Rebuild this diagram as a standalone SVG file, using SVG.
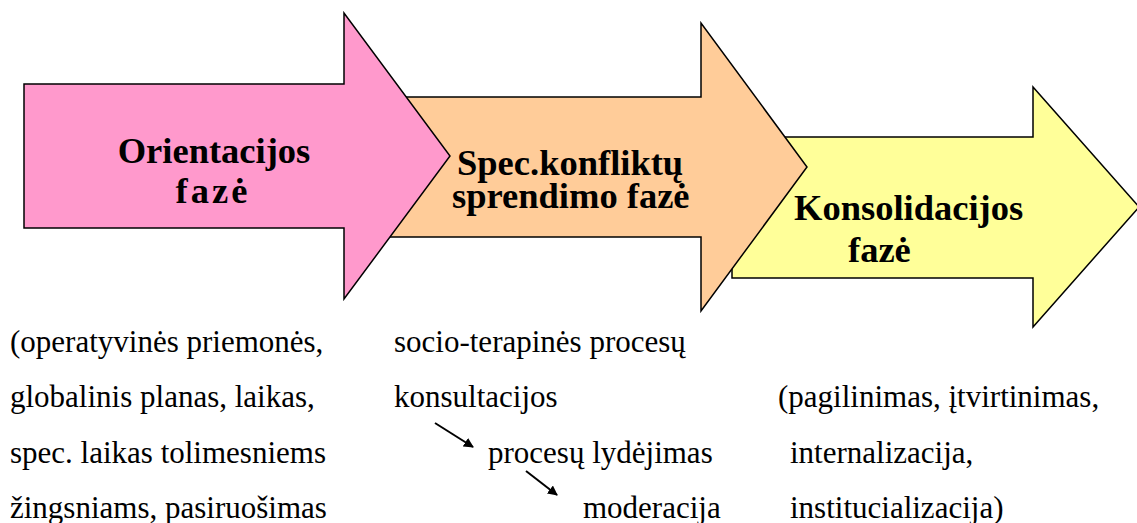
<svg xmlns="http://www.w3.org/2000/svg" width="1137" height="523" viewBox="0 0 1137 523">
<defs>
<style>
.shape{stroke:#000;stroke-width:1.5;stroke-linejoin:miter}
.title{font-weight:bold;font-size:36.5px;fill:#000}
.body{font-size:31px;fill:#000}
.conn{stroke:#000;stroke-width:2;fill:none}
</style>
<marker id="ah" viewBox="0 0 10 10" refX="9" refY="5" markerWidth="5" markerHeight="5" orient="auto" markerUnits="strokeWidth">
<path d="M0,0 L10,5 L0,10 z" fill="#000"/>
</marker>
</defs>
<rect width="1137" height="523" fill="#fff"/>
<g font-family="'Liberation Serif', 'Times New Roman', 'DejaVu Serif', serif">
<g id="node-konsolidacijos">
<polygon class="shape" fill="#FFFF99" points="732,137 1033,137 1033,87 1139,207 1033,327 1033,278 732,278"/>
<text class="title" x="794" y="220">Konsolidacijos</text>
<text class="title" x="848" y="262">fazė</text>
</g>
<g id="node-spec">
<polygon class="shape" fill="#FFCC99" points="385,97 701,97 701,23 807,167 701,311 701,237 385,237"/>
<text class="title" x="457" y="175">Spec.konfliktų</text>
<text class="title" x="452" y="208">sprendimo fazė</text>
</g>
<g id="node-orientacijos">
<polygon class="shape" fill="#FF99CC" points="24,84 344,84 344,13 450,156 344,299 344,228 24,228"/>
<text class="title" x="214" y="163" text-anchor="middle">Orientacijos</text>
<text class="title" x="213" y="203" text-anchor="middle" letter-spacing="3">fazė</text>
</g>
<g id="text-orientacijos">
<text class="body" x="10" y="352">(operatyvinės priemonės,</text>
<text class="body" x="10" y="407">globalinis planas, laikas,</text>
<text class="body" x="10" y="463">spec. laikas tolimesniems</text>
<text class="body" x="10" y="518">žingsniams, pasiruošimas</text>
</g>
<g id="text-spec">
<text class="body" x="394" y="352">socio-terapinės procesų</text>
<text class="body" x="394" y="407">konsultacijos</text>
<text class="body" x="488" y="463">procesų lydėjimas</text>
<text class="body" x="583" y="518">moderacija</text>
</g>
<g id="text-konsolidacijos">
<text class="body" x="778" y="407">(pagilinimas, įtvirtinimas,</text>
<text class="body" x="790" y="463">internalizacija,</text>
<text class="body" x="790" y="518">institucializacija)</text>
</g>
</g>
<g id="connectors">
<line class="conn" x1="435" y1="423" x2="473" y2="447" marker-end="url(#ah)"/>
<line class="conn" x1="526" y1="471" x2="557" y2="495" marker-end="url(#ah)"/>
</g>
</svg>
